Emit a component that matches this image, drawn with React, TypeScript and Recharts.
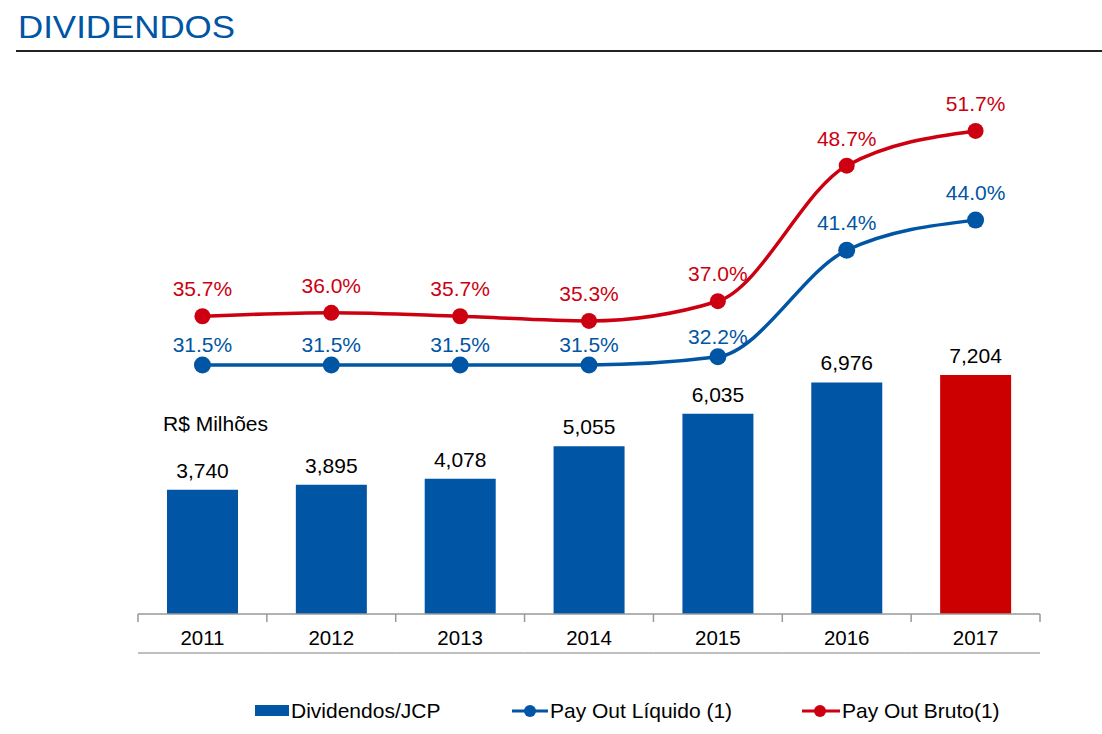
import React from 'react';
import { ComposedChart, Bar, Line, XAxis, YAxis, Cell, LabelList, Legend } from 'recharts';

const years = ['2011', '2012', '2013', '2014', '2015', '2016', '2017'];
const dividendos = [3740, 3895, 4078, 5055, 6035, 6976, 7204];
const payoutLiquido = [31.5, 31.5, 31.5, 31.5, 32.2, 41.4, 44.0];
const payoutBruto = [35.7, 36.0, 35.7, 35.3, 37.0, 48.7, 51.7];

const BLUE = '#0055A4';
const RED = '#CC0010';
const RED_BAR = '#CC0000';
const FONT = '"Liberation Sans", Arial, Helvetica, sans-serif';

const W = 1102;
const H = 734;
const PLOT_LEFT = 138;
const PLOT_RIGHT = 1040;
const BAND = (PLOT_RIGHT - PLOT_LEFT) / years.length;

const data = years.map((year, i) => ({
  year,
  dividendos: dividendos[i],
  liquido: payoutLiquido[i],
  bruto: payoutBruto[i],
}));

const YearTick = (props: any) => {
  const { x, y, payload, index } = props;
  const left = x - BAND / 2;
  const right = x + BAND / 2;
  return (
    <g>
      <line x1={left} y1={y} x2={left} y2={y + 8} stroke="#999" strokeWidth={1.5} />
      {index === years.length - 1 && (
        <line x1={right} y1={y} x2={right} y2={y + 8} stroke="#999" strokeWidth={1.5} />
      )}
      <line x1={left} y1={y + 39} x2={right} y2={y + 39} stroke="#aaa" strokeWidth={1.5} />
      <text x={x} y={y + 31} textAnchor="middle" fontSize={20.5} fill="#000" fontFamily={FONT}>
        {payload.value}
      </text>
    </g>
  );
};

const pctLabel = (color: string, near: number[]) => (props: any) => {
  const { x, y, value, index } = props;
  const off = near.includes(index) ? 13 : 20;
  return (
    <text x={x} y={y - off} textAnchor="middle" fontSize={21} fill={color} fontFamily={FONT}>
      {`${Number(value).toFixed(1)}%`}
    </text>
  );
};

const LegendContent = () => (
  <svg width={W} height={30} style={{ display: 'block' }}>
    <rect x={255} y={9} width={34} height={11} fill={BLUE} />
    <text x={291} y={22} fontSize={21} fill="#000" fontFamily={FONT}>Dividendos/JCP</text>
    <line x1={512} y1={15} x2={548} y2={15} stroke={BLUE} strokeWidth={3} />
    <circle cx={530} cy={15} r={6} fill={BLUE} />
    <text x={550} y={22} fontSize={21} fill="#000" fontFamily={FONT}>Pay Out Líquido (1)</text>
    <line x1={802} y1={15} x2={840} y2={15} stroke={RED} strokeWidth={3} />
    <circle cx={820} cy={15} r={6} fill={RED} />
    <text x={842} y={22} fontSize={21} fill="#000" fontFamily={FONT}>Pay Out Bruto(1)</text>
  </svg>
);

export default function App() {
  return (
    <div style={{ position: 'absolute', left: 0, top: 0, width: W, height: H, background: '#fff' }}>
      <svg width={W} height={H} style={{ position: 'absolute', left: 0, top: 0 }}>
        <text x={18} y={38} fontSize={32} fill={BLUE} fontFamily={FONT} textLength={217} lengthAdjust="spacingAndGlyphs">
          DIVIDENDOS
        </text>
        <line x1={16} y1={51} x2={W} y2={51} stroke="#222" strokeWidth={2} />
        <text x={163} y={431} fontSize={21} fill="#000" fontFamily={FONT}>R$ Milhões</text>
      </svg>
      <div style={{ position: 'absolute', left: 0, top: 0 }}>
        <ComposedChart
          width={W}
          height={H}
          data={data}
          margin={{ top: 73, right: W - PLOT_RIGHT, bottom: 80, left: PLOT_LEFT }}
          barCategoryGap="22.5%"
        >
          <XAxis
            dataKey="year"
            axisLine={{ stroke: '#999', strokeWidth: 1.5 }}
            tickLine={false}
            tickSize={0}
            tickMargin={0}
            height={40}
            interval={0}
            tick={<YearTick />}
          />
          <YAxis yAxisId="val" hide domain={[0, 16300]} />
          <YAxis yAxisId="pct" hide orientation="right" domain={[10, 56.7]} />
          <Legend
            layout="horizontal"
            verticalAlign="middle"
            wrapperStyle={{ top: 696, left: 0, width: W }}
            content={<LegendContent />}
          />
          <Bar yAxisId="val" dataKey="dividendos" name="Dividendos/JCP" isAnimationActive={false}>
            {data.map((d, i) => (
              <Cell key={d.year} fill={i === data.length - 1 ? RED_BAR : BLUE} />
            ))}
            <LabelList
              dataKey="dividendos"
              position="top"
              offset={12}
              fill="#000"
              fontSize={21}
              fontFamily={FONT}
              formatter={(v: any) => Number(v).toLocaleString('en-US')}
            />
          </Bar>
          <Line
            yAxisId="pct"
            type="monotone"
            dataKey="liquido"
            name="Pay Out Líquido (1)"
            stroke={BLUE}
            strokeWidth={3.5}
            dot={{ r: 8.5, fill: BLUE, stroke: BLUE, strokeWidth: 0 }}
            activeDot={false}
            isAnimationActive={false}
            label={pctLabel(BLUE, [0, 1, 2, 3, 4])}
          />
          <Line
            yAxisId="pct"
            type="monotone"
            dataKey="bruto"
            name="Pay Out Bruto(1)"
            stroke={RED}
            strokeWidth={3.5}
            dot={{ r: 8, fill: RED, stroke: RED, strokeWidth: 0 }}
            activeDot={false}
            isAnimationActive={false}
            label={pctLabel(RED, [])}
          />
        </ComposedChart>
      </div>
    </div>
  );
}
